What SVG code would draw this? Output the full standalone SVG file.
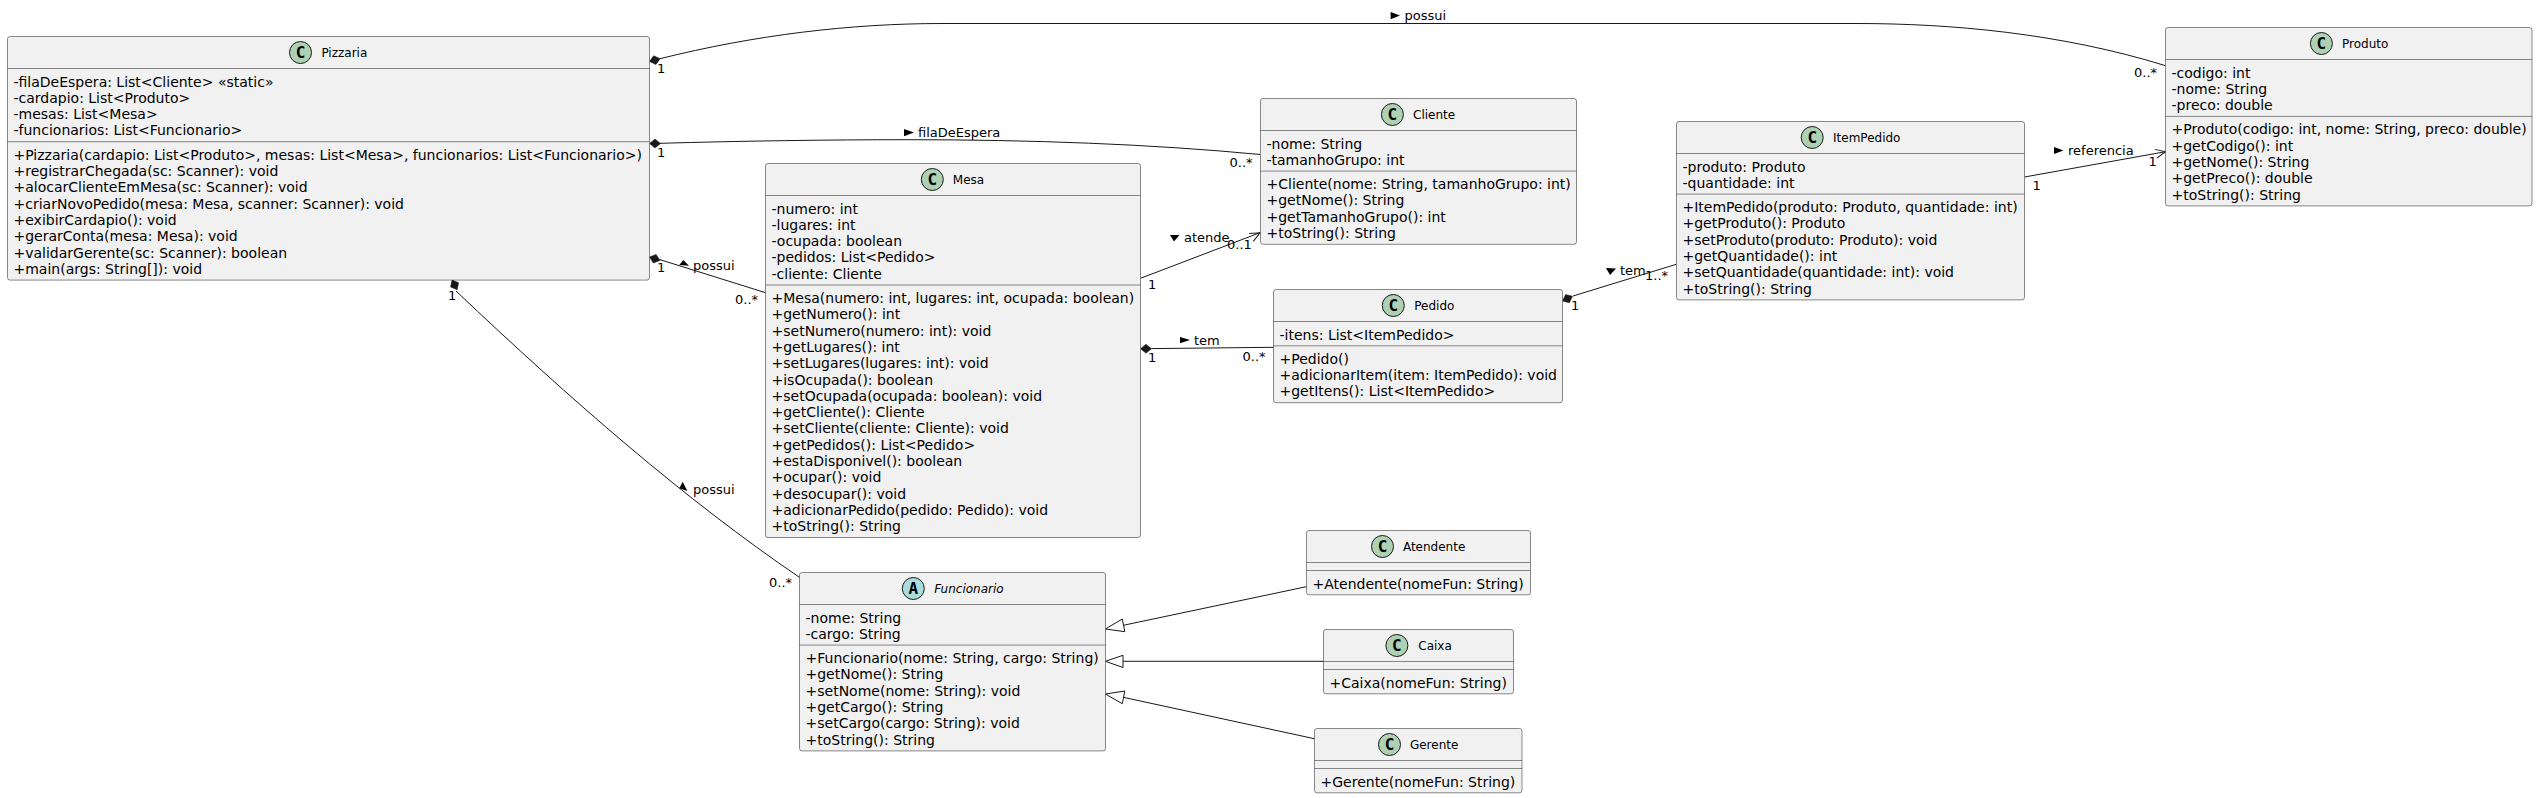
<svg xmlns="http://www.w3.org/2000/svg" width="2538" height="798" viewBox="0 0 2538 798">
<style>
text{font-family:"DejaVu Sans",sans-serif;fill:#000}
.box{fill:#F1F1F1;stroke:#181818;stroke-width:.5}
.sep{stroke:#181818;stroke-width:.5;fill:none}
.spot{fill:#ADD1B2;stroke:#181818;stroke-width:1}
.spotA{fill:#A9DCDF;stroke:#181818;stroke-width:1}
.sl{font-family:"DejaVu Sans Mono",monospace;font-weight:bold;font-size:16px;text-anchor:middle}
.t{font-size:12px}
.i{font-style:italic}
.m{font-size:14px}
.l{font-size:13px}
.c{font-size:13px}
.ln{fill:none;stroke:#181818;stroke-width:1}
.d{fill:#181818;stroke:#181818;stroke-width:.5}
.g{fill:none;stroke:#181818;stroke-width:1}
.tri{fill:#000;stroke:none}
</style>
<defs>
<polygon id="dia" class="d" points="0,0 5.5,-4.5 11,0 5.5,4.5"/>
<polyline id="open" class="ln" points="-10,-4.5 0,0 -10,4.5"/>
</defs>
<g id="connectors">
<path class="ln" d="M660,58.7 C755,35 850,23.5 943,23.5 L1856,23.5 C1950,23.5 2060,33 2165.6,65.7"/>
<use href="#dia" transform="translate(649.5,61.5) rotate(-15)"/>
<polygon class="tri" points="1390.6,12 1400,15.5 1390.6,19.2"/>
<text class="l" x="1404.5" y="20">possui</text>
<text class="c" x="657" y="72.5">1</text>
<text class="c" x="2134" y="76.5">0..*</text>

<path class="ln" d="M660,143.3 C740,141 830,139.7 907,139.7 C1030,139.7 1150,144 1260.3,154.5"/>
<use href="#dia" transform="translate(649.5,143.6)"/>
<polygon class="tri" points="904,129 914,132.5 904,136.2"/>
<text class="l" x="918" y="137">filaDeEspera</text>
<text class="c" x="657" y="157">1</text>
<text class="c" x="1229.5" y="167">0..*</text>

<path class="ln" d="M659.5,259.5 L765.5,292.7"/>
<use href="#dia" transform="translate(649.5,257) rotate(18)"/>
<polygon class="tri" points="683.3,260 689,265.8 679.3,265"/>
<text class="l" x="693" y="269.5">possui</text>
<text class="c" x="657" y="272">1</text>
<text class="c" x="735" y="303.5">0..*</text>

<path class="ln" d="M456,291 C571,400 685,499.5 800,577.7"/>
<use href="#dia" transform="translate(452,280) rotate(62)"/>
<polygon class="tri" points="682.7,481.7 687.3,491 679.3,488.3"/>
<text class="l" x="693" y="493.5">possui</text>
<text class="c" x="448" y="300">1</text>
<text class="c" x="769" y="586.5">0..*</text>

<path class="ln" d="M1140.5,278.3 L1260,232.7"/>
<use href="#open" transform="translate(1260,232.7) rotate(-28)"/>
<polygon class="tri" points="1170,235 1179.5,235 1174,241.5"/>
<text class="l" x="1184" y="242">atende</text>
<text class="c" x="1148" y="288.5">1</text>
<text class="c" x="1227" y="249">0..1</text>

<path class="ln" d="M1151.5,348.6 L1273.7,347.3"/>
<use href="#dia" transform="translate(1140.5,348.7)"/>
<polygon class="tri" points="1180,337 1190,340 1180,343.2"/>
<text class="l" x="1194" y="345">tem</text>
<text class="c" x="1148" y="361.5">1</text>
<text class="c" x="1242.5" y="361">0..*</text>

<path class="ln" d="M1573,296 L1676.3,264.3"/>
<use href="#dia" transform="translate(1562.5,301) rotate(-25)"/>
<polygon class="tri" points="1606,268 1616,268.5 1610,275"/>
<text class="l" x="1620" y="275">tem</text>
<text class="c" x="1571" y="310">1</text>
<text class="c" x="1645" y="280">1..*</text>

<path class="ln" d="M2024.5,177 L2165.6,151.7"/>
<use href="#open" transform="translate(2165.6,151.7) rotate(-12)"/>
<polygon class="tri" points="2054,147 2063.5,150.5 2054,154"/>
<text class="l" x="2068" y="155">referencia</text>
<text class="c" x="2148.5" y="166">1</text>
<text class="c" x="2032.5" y="189.5">1</text>

<path class="ln" d="M1306.4,586.7 L1123.3,625.3"/>
<polygon class="g" points="1105.4,629 1122.3,619 1124.8,631.7"/>
<path class="ln" d="M1323.8,661.3 L1123,661.3"/>
<polygon class="g" points="1105.4,661.3 1123,655.3 1123,667.5"/>
<path class="ln" d="M1314.3,738.7 L1123.3,697.3"/>
<polygon class="g" points="1105.4,694 1124.8,691 1122.3,703.7"/>
</g>

<g id="Pizzaria">
<rect class="box" x="7.5" y="36.5" width="642" height="243.6" rx="2.5"/>
<path class="sep" d="M7.5,68.5H649.5M7.5,141.7H649.5"/>
<circle class="spot" cx="300.5" cy="52.5" r="11"/><text class="sl" x="300.5" y="58">C</text>
<text class="t" x="321.4" y="57">Pizzaria</text>
<text class="m" x="13.5" y="86.5">-filaDeEspera: List&lt;Cliente&gt; «static»</text>
<text class="m" x="13.5" y="102.8">-cardapio: List&lt;Produto&gt;</text>
<text class="m" x="13.5" y="119.1">-mesas: List&lt;Mesa&gt;</text>
<text class="m" x="13.5" y="135.4">-funcionarios: List&lt;Funcionario&gt;</text>
<text class="m" x="13.5" y="159.7">+Pizzaria(cardapio: List&lt;Produto&gt;, mesas: List&lt;Mesa&gt;, funcionarios: List&lt;Funcionario&gt;)</text>
<text class="m" x="13.5" y="176">+registrarChegada(sc: Scanner): void</text>
<text class="m" x="13.5" y="192.3">+alocarClienteEmMesa(sc: Scanner): void</text>
<text class="m" x="13.5" y="208.6">+criarNovoPedido(mesa: Mesa, scanner: Scanner): void</text>
<text class="m" x="13.5" y="224.9">+exibirCardapio(): void</text>
<text class="m" x="13.5" y="241.2">+gerarConta(mesa: Mesa): void</text>
<text class="m" x="13.5" y="257.5">+validarGerente(sc: Scanner): boolean</text>
<text class="m" x="13.5" y="273.8">+main(args: String[]): void</text>
</g>

<g id="Mesa">
<rect class="box" x="765.5" y="163.5" width="375" height="374" rx="2.5"/>
<path class="sep" d="M765.5,195.5H1140.5M765.5,285H1140.5"/>
<circle class="spot" cx="932.3" cy="179.5" r="11"/><text class="sl" x="932.3" y="185">C</text>
<text class="t" x="952.8" y="184">Mesa</text>
<text class="m" x="771.5" y="213.5">-numero: int</text>
<text class="m" x="771.5" y="229.8">-lugares: int</text>
<text class="m" x="771.5" y="246.1">-ocupada: boolean</text>
<text class="m" x="771.5" y="262.4">-pedidos: List&lt;Pedido&gt;</text>
<text class="m" x="771.5" y="278.7">-cliente: Cliente</text>
<text class="m" x="771.5" y="303">+Mesa(numero: int, lugares: int, ocupada: boolean)</text>
<text class="m" x="771.5" y="319.3">+getNumero(): int</text>
<text class="m" x="771.5" y="335.6">+setNumero(numero: int): void</text>
<text class="m" x="771.5" y="351.9">+getLugares(): int</text>
<text class="m" x="771.5" y="368.2">+setLugares(lugares: int): void</text>
<text class="m" x="771.5" y="384.5">+isOcupada(): boolean</text>
<text class="m" x="771.5" y="400.8">+setOcupada(ocupada: boolean): void</text>
<text class="m" x="771.5" y="417.1">+getCliente(): Cliente</text>
<text class="m" x="771.5" y="433.4">+setCliente(cliente: Cliente): void</text>
<text class="m" x="771.5" y="449.7">+getPedidos(): List&lt;Pedido&gt;</text>
<text class="m" x="771.5" y="466">+estaDisponivel(): boolean</text>
<text class="m" x="771.5" y="482.3">+ocupar(): void</text>
<text class="m" x="771.5" y="498.6">+desocupar(): void</text>
<text class="m" x="771.5" y="514.9">+adicionarPedido(pedido: Pedido): void</text>
<text class="m" x="771.5" y="531.2">+toString(): String</text>
</g>

<g id="Cliente">
<rect class="box" x="1260.5" y="98.5" width="316" height="145.8" rx="2.5"/>
<path class="sep" d="M1260.5,130.5H1576.5M1260.5,171.1H1576.5"/>
<circle class="spot" cx="1392.4" cy="114.5" r="11"/><text class="sl" x="1392.4" y="120">C</text>
<text class="t" x="1413" y="119">Cliente</text>
<text class="m" x="1266.5" y="148.5">-nome: String</text>
<text class="m" x="1266.5" y="164.8">-tamanhoGrupo: int</text>
<text class="m" x="1266.5" y="189.1">+Cliente(nome: String, tamanhoGrupo: int)</text>
<text class="m" x="1266.5" y="205.4">+getNome(): String</text>
<text class="m" x="1266.5" y="221.7">+getTamanhoGrupo(): int</text>
<text class="m" x="1266.5" y="238">+toString(): String</text>
</g>

<g id="Pedido">
<rect class="box" x="1273.5" y="289.5" width="289" height="113.2" rx="2.5"/>
<path class="sep" d="M1273.5,321.5H1562.5M1273.5,345.8H1562.5"/>
<circle class="spot" cx="1393.3" cy="305.5" r="11"/><text class="sl" x="1393.3" y="311">C</text>
<text class="t" x="1414.3" y="310">Pedido</text>
<text class="m" x="1279.5" y="339.5">-itens: List&lt;ItemPedido&gt;</text>
<text class="m" x="1279.5" y="363.8">+Pedido()</text>
<text class="m" x="1279.5" y="380.1">+adicionarItem(item: ItemPedido): void</text>
<text class="m" x="1279.5" y="396.4">+getItens(): List&lt;ItemPedido&gt;</text>
</g>

<g id="ItemPedido">
<rect class="box" x="1676.5" y="121.5" width="348" height="178.4" rx="2.5"/>
<path class="sep" d="M1676.5,153.5H2024.5M1676.5,194.1H2024.5"/>
<circle class="spot" cx="1812.2" cy="137.5" r="11"/><text class="sl" x="1812.2" y="143">C</text>
<text class="t" x="1833" y="142">ItemPedido</text>
<text class="m" x="1682.5" y="171.5">-produto: Produto</text>
<text class="m" x="1682.5" y="187.8">-quantidade: int</text>
<text class="m" x="1682.5" y="212.1">+ItemPedido(produto: Produto, quantidade: int)</text>
<text class="m" x="1682.5" y="228.4">+getProduto(): Produto</text>
<text class="m" x="1682.5" y="244.7">+setProduto(produto: Produto): void</text>
<text class="m" x="1682.5" y="261">+getQuantidade(): int</text>
<text class="m" x="1682.5" y="277.3">+setQuantidade(quantidade: int): void</text>
<text class="m" x="1682.5" y="293.6">+toString(): String</text>
</g>

<g id="Produto">
<rect class="box" x="2165.5" y="27.5" width="366.5" height="178.4" rx="2.5"/>
<path class="sep" d="M2165.5,59.5H2532M2165.5,116.4H2532"/>
<circle class="spot" cx="2321.4" cy="43.5" r="11"/><text class="sl" x="2321.4" y="49">C</text>
<text class="t" x="2342" y="48">Produto</text>
<text class="m" x="2171.5" y="77.5">-codigo: int</text>
<text class="m" x="2171.5" y="93.8">-nome: String</text>
<text class="m" x="2171.5" y="110.1">-preco: double</text>
<text class="m" x="2171.5" y="134.4">+Produto(codigo: int, nome: String, preco: double)</text>
<text class="m" x="2171.5" y="150.7">+getCodigo(): int</text>
<text class="m" x="2171.5" y="167">+getNome(): String</text>
<text class="m" x="2171.5" y="183.3">+getPreco(): double</text>
<text class="m" x="2171.5" y="199.6">+toString(): String</text>
</g>

<g id="Funcionario">
<rect class="box" x="799.5" y="572.5" width="306" height="178.4" rx="2.5"/>
<path class="sep" d="M799.5,604.5H1105.5M799.5,645.1H1105.5"/>
<circle class="spotA" cx="913.3" cy="588.5" r="11"/><text class="sl" x="913.3" y="594">A</text>
<text class="t i" x="934.2" y="593">Funcionario</text>
<text class="m" x="805.5" y="622.5">-nome: String</text>
<text class="m" x="805.5" y="638.8">-cargo: String</text>
<text class="m" x="805.5" y="663.1">+Funcionario(nome: String, cargo: String)</text>
<text class="m" x="805.5" y="679.4">+getNome(): String</text>
<text class="m" x="805.5" y="695.7">+setNome(nome: String): void</text>
<text class="m" x="805.5" y="712">+getCargo(): String</text>
<text class="m" x="805.5" y="728.3">+setCargo(cargo: String): void</text>
<text class="m" x="805.5" y="744.6">+toString(): String</text>
</g>

<g id="Atendente">
<rect class="box" x="1306.5" y="530.5" width="224" height="64.3" rx="2.5"/>
<path class="sep" d="M1306.5,562.5H1530.5M1306.5,570.5H1530.5"/>
<circle class="spot" cx="1382.5" cy="546.5" r="11"/><text class="sl" x="1382.5" y="552">C</text>
<text class="t" x="1402.9" y="551">Atendente</text>
<text class="m" x="1312.5" y="588.5">+Atendente(nomeFun: String)</text>
</g>

<g id="Caixa">
<rect class="box" x="1323.5" y="629.5" width="190" height="64.3" rx="2.5"/>
<path class="sep" d="M1323.5,661.5H1513.5M1323.5,669.5H1513.5"/>
<circle class="spot" cx="1396.9" cy="645.5" r="11"/><text class="sl" x="1396.9" y="651">C</text>
<text class="t" x="1418.3" y="650">Caixa</text>
<text class="m" x="1329.5" y="687.5">+Caixa(nomeFun: String)</text>
</g>

<g id="Gerente">
<rect class="box" x="1314.5" y="728.5" width="207.5" height="64.3" rx="2.5"/>
<path class="sep" d="M1314.5,760.5H1522M1314.5,768.5H1522"/>
<circle class="spot" cx="1389.5" cy="744.5" r="11"/><text class="sl" x="1389.5" y="750">C</text>
<text class="t" x="1409.9" y="749">Gerente</text>
<text class="m" x="1320.5" y="786.5">+Gerente(nomeFun: String)</text>
</g>
</svg>
